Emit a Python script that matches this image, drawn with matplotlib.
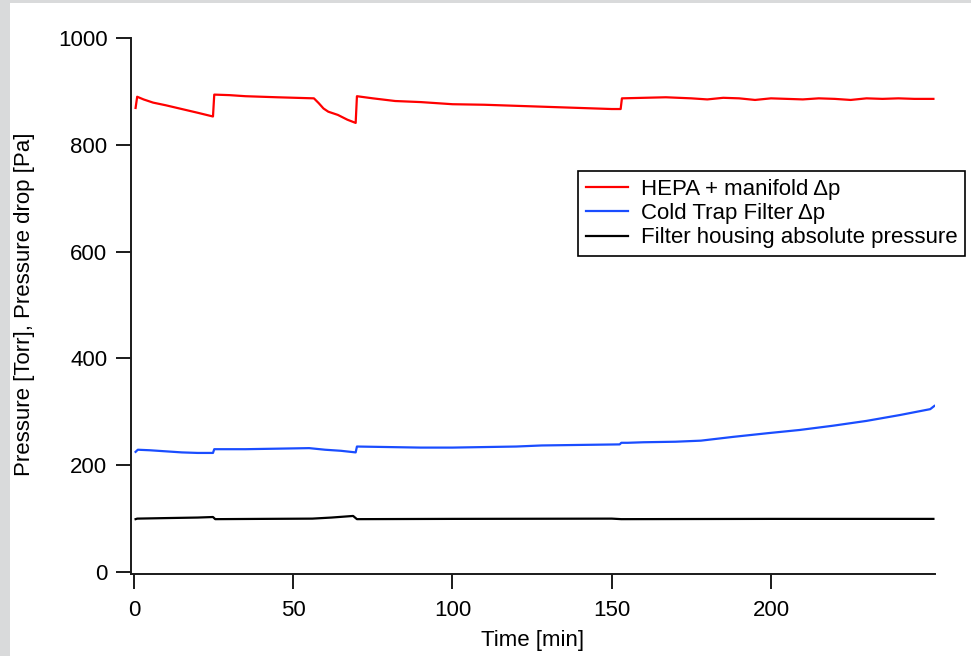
import matplotlib
matplotlib.use("Agg")
import matplotlib.pyplot as plt
from matplotlib.patches import Rectangle

plt.rcParams['font.family'] = ['Liberation Sans', 'DejaVu Sans']

# HEPA + manifold pressure drop [Pa]
hepa_t = [0.5, 1.0, 3, 6, 10, 15, 20, 24.8, 25.2, 30, 35, 45, 56.5, 58, 59.5, 61, 64, 67, 69.6,
          70.0, 75, 82, 90, 100, 110, 120, 130, 140, 150, 152.8, 153.2, 160, 167, 175, 180,
          185, 190, 195, 200, 205, 210, 215, 220, 225, 230, 235, 240, 245, 251]
hepa_v = [869, 890, 885, 879, 874, 867, 860, 853, 894, 893, 891, 889, 887, 878, 868, 862, 856, 847, 841,
          891, 887, 882, 880, 876, 875, 873, 871, 869, 867, 867, 887, 888, 889, 887, 885,
          888, 887, 884, 887, 886, 885, 887, 886, 884, 887, 886, 887, 886, 886]

# Cold trap filter pressure drop [Pa]
cold_t = [0.5, 1.2, 5, 10, 15, 20, 24.8, 25.2, 35, 45, 55, 60, 65, 69.6, 70.0, 80, 90, 100, 110,
          120, 128, 140, 152.5, 153, 155, 160, 170, 178, 188, 199, 209, 219.5, 230, 240.5, 250, 251.3]
cold_v = [225, 229, 228, 226, 224, 223, 223, 230, 230, 231, 232, 229, 227, 224, 235, 234, 233, 233, 234,
          235, 237, 238, 239, 242, 242, 243, 244, 246, 253, 260, 266, 274, 283, 294, 305, 311]

# Filter housing absolute pressure [Torr]
house_t = [0.5, 1, 10, 20, 24.8, 25.5, 40, 56, 62, 68.8, 70, 100, 150, 153, 200, 251]
house_v = [99, 100, 101, 102, 103, 99, 99.5, 100, 102, 105, 99, 99.5, 100, 99, 99.5, 99.5]

fig = plt.figure(figsize=(9.71, 6.56), dpi=100)
fig.patch.set_facecolor('#d9dadb')
fig.patches.append(Rectangle((10 / 971, 0), 1, 1 - 3 / 656, transform=fig.transFigure,
                             facecolor='white', edgecolor='none', zorder=-1))

ax = fig.add_axes([131 / 971, 1 - 574 / 656, (935 - 131) / 971, (574 - 38) / 656])
ax.set_facecolor('none')

ax.plot(hepa_t, hepa_v, color='#ff0000', lw=1.6, label='HEPA + manifold Δp')
ax.plot(cold_t, cold_v, color='#1a4dff', lw=1.6, label='Cold Trap Filter Δp')
ax.plot(house_t, house_v, color='black', lw=1.6, label='Filter housing absolute pressure')

ax.set_xlim(-0.94, 251.5)
ax.set_ylim(-3.7, 1000)
ax.set_xticks([0, 50, 100, 150, 200])
ax.set_yticks([0, 200, 400, 600, 800, 1000])

for s in ['top', 'right']:
    ax.spines[s].set_visible(False)
for s in ['left', 'bottom']:
    ax.spines[s].set_linewidth(1.4)
    ax.spines[s].set_color('#1a1a1a')
ax.tick_params(direction='out', length=11, width=1.4, color='#1a1a1a', labelsize=16, pad=6)
ax.tick_params(axis='x', pad=8)

ax.set_xlabel('Time [min]', fontsize=16, labelpad=6)
ax.set_ylabel('Pressure [Torr], Pressure drop [Pa]', fontsize=16)
ax.yaxis.set_label_coords(-0.119, 0.504)

leg = ax.legend(loc='upper right', bbox_to_anchor=(965 / 971, 1 - 171 / 656),
                bbox_transform=fig.transFigure, fontsize=16, frameon=True, fancybox=False,
                framealpha=1, edgecolor='black', handlelength=1.9, handletextpad=0.55,
                labelspacing=0.15, borderpad=0.35, borderaxespad=0)
leg.get_frame().set_linewidth(1.2)

fig.savefig('out.png', dpi=100, facecolor=fig.get_facecolor())
